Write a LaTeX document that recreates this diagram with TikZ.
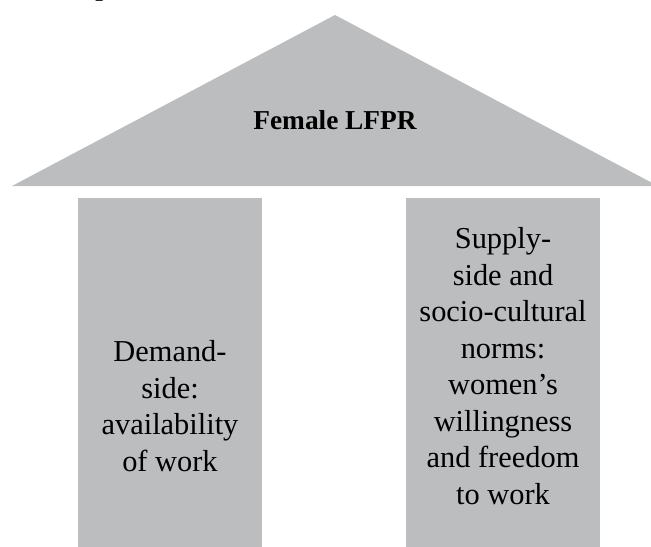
\documentclass[tikz,border=0pt]{standalone}
\usepackage{fontspec}
\setmainfont{Liberation Serif}
\definecolor{pillargrey}{RGB}{188,189,191}
\begin{document}
\begin{tikzpicture}[x=0.75pt,y=-0.75pt,
  part/.style={fill=pillargrey,draw=none},
  label/.style={align=center,font=\fontsize{22.8}{27.4}\selectfont,text=black,inner sep=0pt},
  rooflabel/.style={font=\fontsize{20.5}{24}\selectfont\bfseries,text=black,inner sep=0pt}]
\useasboundingbox (0,0) rectangle (651,547);
% roof
\fill[part] (335,15) -- (658,186) -- (12,186) -- cycle;
% pillars
\fill[part] (78,198) rectangle (262,550);
\fill[part] (406,198) rectangle (600,550);
% partial heading letter at top (cut off by the page edge, as in the reference)
\node[font=\fontsize{20.5}{24}\selectfont\bfseries,anchor=base west,inner sep=0pt] (head) at (95,-5) {p};
% texts
\node[rooflabel,anchor=base] (roof) at (335,129) {Female LFPR};
\node[label] (left) at (170,406) {Demand-\\side:\\availability\\of work};
\node[label] (right) at (503,366) {Supply-\\side and\\socio-cultural\\norms:\\women’s\\willingness\\and freedom\\to work};
\end{tikzpicture}
\end{document}
